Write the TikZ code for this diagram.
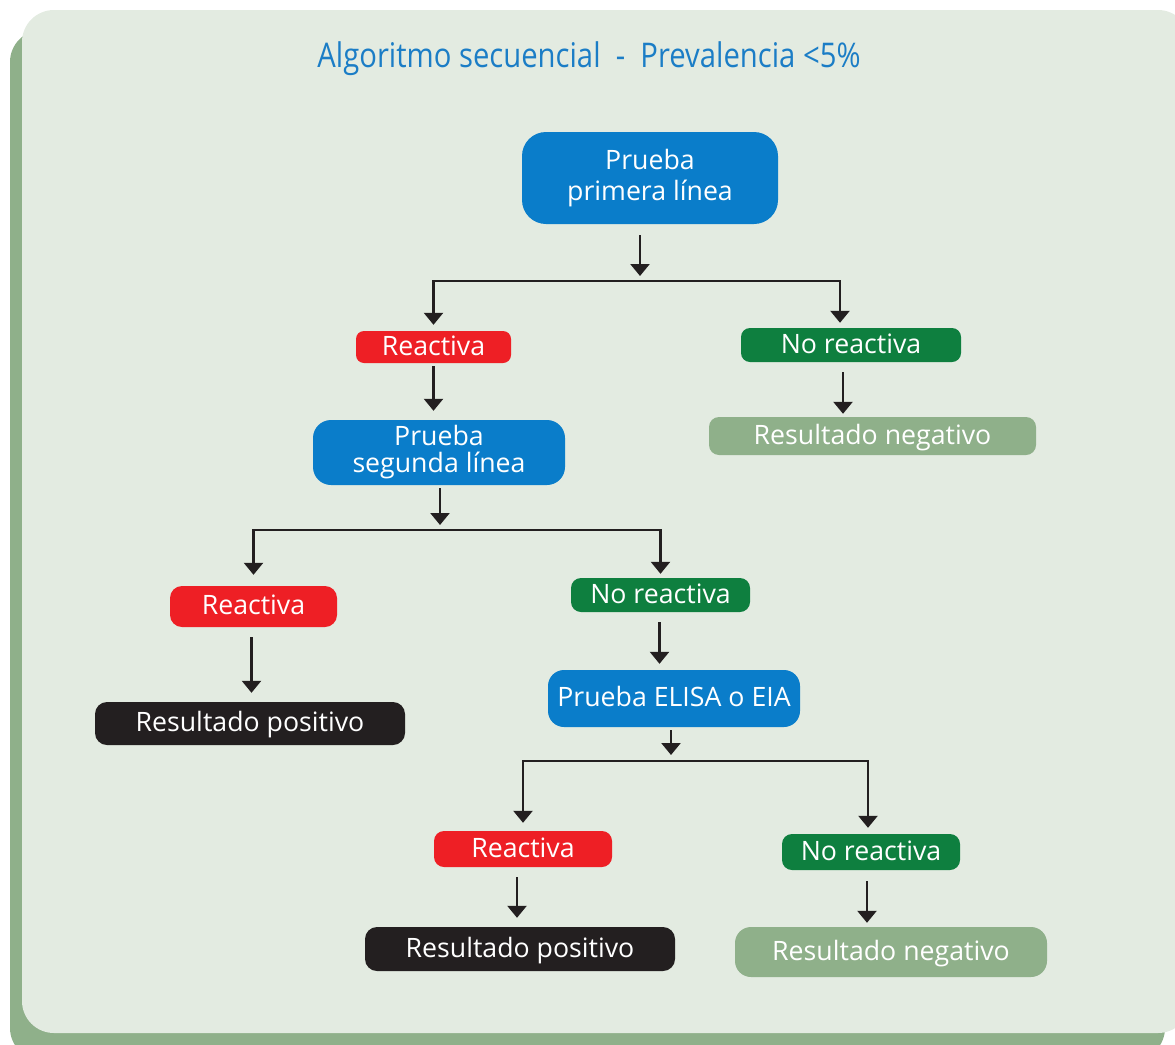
\documentclass[tikz,border=0pt]{standalone}
\usepackage{fontspec}
\setmainfont{Open Sans}
\newfontfamily\titlefont[FakeStretch=0.86]{Open Sans}
\usetikzlibrary{arrows.meta}
\definecolor{panelbg}{HTML}{E3EBE1}
\definecolor{shadowgreen}{HTML}{8FB08A}
\definecolor{boxblue}{HTML}{0A7DCA}
\definecolor{titleblue}{HTML}{1B7DC6}
\definecolor{boxred}{HTML}{EE1F25}
\definecolor{boxgreen}{HTML}{0E7F3F}
\definecolor{boxblack}{HTML}{231F20}
\definecolor{negbox}{HTML}{8FB08A}
\tikzset{
  base/.style={inner sep=0pt, text=white, align=center, font=\fontsize{26.7}{30}\selectfont, text height=19pt, text depth=3pt},
  twoline/.style={text height=, text depth=},
  bluebox/.style={base, fill=boxblue},
  redbox/.style={base, fill=boxred},
  greenbox/.style={base, fill=boxgreen},
  posbox/.style={base, fill=boxblack},
  negboxs/.style={base, fill=negbox},
  conn/.style={draw=boxblack, line width=2.5pt, line join=miter},
  arr/.style={conn, -{Triangle[width=19pt,length=12pt]}}
}
\begin{document}
\begin{tikzpicture}[x=1pt,y=-1pt]
\useasboundingbox (0,0) rectangle (1175,1044);
\begin{scope}
\clip (0,0) rectangle (1175,1044);
\fill[shadowgreen, rounded corners=32pt] (10,30) rectangle (1165,1060);
\fill[panelbg, rounded corners=32pt] (22,10) rectangle (1190,1033);
\end{scope}

\node[text=titleblue, font=\titlefont\fontsize{34}{36}\selectfont] (title) at (589,59) {Algoritmo secuencial~~-~~Prevalencia <5\%};

\node[bluebox, twoline, minimum width=256pt, minimum height=92pt, rounded corners=24pt, font=\fontsize{26.7}{31}\selectfont] (p1) at (650,178) {Prueba\\primera línea};
\node[redbox, minimum width=155pt, minimum height=32pt, rounded corners=8pt] (r1) at (433.5,347) {Reactiva};
\node[greenbox, minimum width=220pt, minimum height=34pt, rounded corners=9pt] (n1) at (851,345) {No reactiva};
\node[negboxs, minimum width=327pt, minimum height=38pt, rounded corners=10pt] (neg1) at (872.5,436) {Resultado negativo};
\node[bluebox, twoline, minimum width=252pt, minimum height=65pt, rounded corners=18pt, font=\fontsize{26.7}{27}\selectfont] (p2) at (439,452.5) {Prueba\\segunda línea};
\node[redbox, minimum width=167pt, minimum height=41pt, rounded corners=12pt] (r2) at (253.5,606.5) {Reactiva};
\node[greenbox, minimum width=179pt, minimum height=34pt, rounded corners=10pt] (n2) at (660.5,595) {No reactiva};
\node[posbox, minimum width=310pt, minimum height=43pt, rounded corners=12pt] (pos1) at (250,723.5) {Resultado positivo};
\node[bluebox, minimum width=252pt, minimum height=57pt, rounded corners=16pt] (elisa) at (674,698.5) {Prueba ELISA o EIA};
\node[redbox, minimum width=178pt, minimum height=36pt, rounded corners=10pt] (r3) at (523,849) {Reactiva};
\node[greenbox, minimum width=178pt, minimum height=36pt, rounded corners=10pt] (n3) at (871,852) {No reactiva};
\node[posbox, minimum width=310pt, minimum height=44pt, rounded corners=12pt] (pos2) at (520,949) {Resultado positivo};
\node[negboxs, minimum width=312pt, minimum height=50pt, rounded corners=16pt] (neg2) at (891,952) {Resultado negativo};

\coordinate (j1) at (640,281);
\coordinate (j2) at (440,530);
\coordinate (j3) at (671,761);

% first level
\draw[arr, shorten <=11pt, shorten >=5pt] (p1.south -| j1) -- (j1);
\draw[arr, shorten >=6pt] (j1) -| (r1.north);
\draw[arr, shorten >=5pt] (j1) -| ([xshift=-11pt]n1.north);
\draw[arr, shorten <=3pt, shorten >=9pt] (r1.south) -- (p2.north -| r1.south);
\draw[arr, shorten <=10pt, shorten >=3pt] ([xshift=-8pt]n1.south) -- ([xshift=-8pt]n1.south |- neg1.north);

% second level
\draw[arr, shorten <=3pt, shorten >=5pt] (p2.south -| j2) -- (j2);
\draw[arr, shorten >=11pt] (j2) -| (r2.north);
\draw[arr, shorten >=4pt] (j2) -| (n2.north);
\draw[arr, shorten <=10pt, shorten >=9pt] ([xshift=-2pt]r2.south) -- ([xshift=-2pt]r2.south |- pos1.north);
\draw[arr, shorten <=10pt, shorten >=6pt] ([xshift=-1pt]n2.south) -- ([xshift=-1pt]n2.south |- elisa.north);

% third level
\draw[arr, shorten <=3pt, shorten >=6pt] (elisa.south -| j3) -- (j3);
\draw[arr, shorten >=8pt] (j3) -| (r3.north);
\draw[arr, shorten >=6pt] (j3) -| ([xshift=-3pt]n3.north);
\draw[arr, shorten <=10pt, shorten >=9pt] ([xshift=-6pt]r3.south) -- ([xshift=-6pt]r3.south |- pos2.north);
\draw[arr, shorten <=11pt, shorten >=4pt] ([xshift=-4pt]n3.south) -- ([xshift=-4pt]n3.south |- neg2.north);
\end{tikzpicture}
\end{document}
